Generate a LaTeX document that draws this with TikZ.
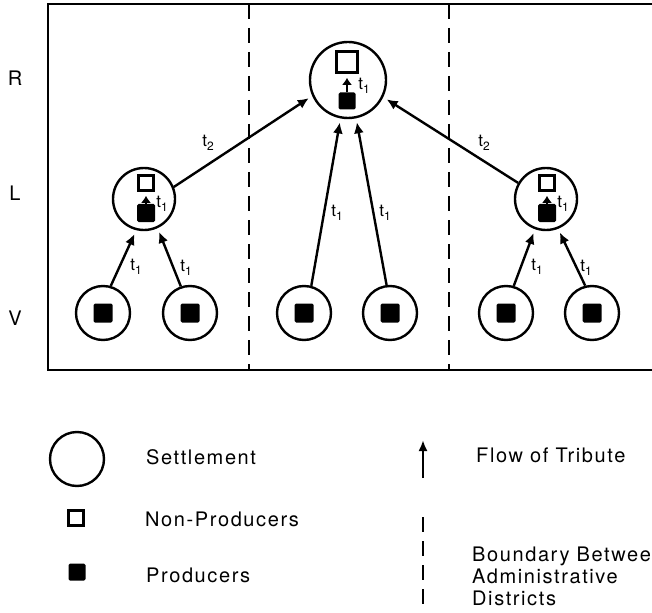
\documentclass[tikz,border=0pt]{standalone}
\usepackage{fontspec}
\setmainfont[LetterSpace=8]{TeX Gyre Heros}
\usetikzlibrary{arrows.meta,positioning}

\newcommand{\trib}[1]{t\raisebox{-4pt}{\fontsize{12}{14}\selectfont #1}}

\begin{document}
\begin{tikzpicture}[x=1pt, y=-1pt,
  every node/.style={font=\fontsize{20}{23}\selectfont},
  settle/.style={draw, circle, line width=2.4pt, minimum size=#1, inner sep=0pt},
  nonprod/.style={draw, line width=2.6pt, minimum width=#1, minimum height=#1,
                  inner sep=0pt, fill=white},
  prod/.style={fill=black, rounded corners=1.5pt, minimum width=#1,
               minimum height=#1, inner sep=0pt},
  arr/.style={-{Latex[length=11pt,width=10pt]}, line width=2.4pt, shorten >=4pt},
  tick/.style={-{Latex[length=7pt,width=10pt]}, line width=2.4pt, shorten >=4pt},
  lbl/.style={font=\fontsize{17}{20}\selectfont, inner sep=0pt},
  district/.style={dash pattern=on 15pt off 9pt, line width=2.6pt},
  legtxt/.style={anchor=west, align=left, inner sep=0pt},
]
\useasboundingbox[fill=white] (0,0) rectangle (652,612);

%% ── Frame and district boundaries ─────────────────────────────────────
\draw[line width=2.6pt] (652,4) -- (48,4) -- (48,370) -- (652,370);
\draw[district] (249,4) -- (249,370);
\draw[district] (449,4) -- (449,370);

%% ── Row labels ──────────────────────────────────────────────────────────
\node (rowR) at (15,78)  {R};
\node (rowL) at (15,193) {L};
\node (rowV) at (15,318) {V};

%% ── Regional centre ─────────────────────────────────────────────────────
\node[settle=76pt]  (R)   at (348,80)  {};
\node[nonprod=21pt] (Rnp) at (347,62)  {};
\node[prod=17pt]    (Rpr) at (347,101) {};
\draw[tick] (Rpr.north) -- (Rnp.south);
\node[lbl] (Rt) at (364,86) {\trib{1}};

%% ── Local centres ───────────────────────────────────────────────────────
\node[settle=62pt]  (L1)   at (144,199) {};
\node[nonprod=15pt] (L1np) at (146,183) {};
\node[prod=18pt]    (L1pr) at (146,213) {};
\draw[tick] (L1pr.north) -- (L1np.south);
\node[lbl] (L1t) at (162,204) {\trib{1}};

\node[settle=62pt]  (L2)   at (546,199) {};
\node[nonprod=15pt] (L2np) at (547,183) {};
\node[prod=18pt]    (L2pr) at (547,213) {};
\draw[tick] (L2pr.north) -- (L2np.south);
\node[lbl] (L2t) at (563,204) {\trib{1}};

%% ── Villages ────────────────────────────────────────────────────────────
\foreach \i/\x in {1/103, 2/190, 3/304, 4/390, 5/506, 6/592} {
  \node[settle=54pt] (V\i) at (\x,313) {};
  \node[prod=19pt] (V\i pr) at (\x,313) {};
}

%% ── Flow of tribute ─────────────────────────────────────────────────────
\draw[arr] (V1.74)  -- (L1.256);
\draw[arr] (V2.109) -- (L1.295);
\draw[arr] (V3.75)  -- (R.259);
\draw[arr] (V4.97)  -- (R.282);
\draw[arr] (V5.74)  -- (L2.250);
\draw[arr] (V6.104) -- (L2.292);
\draw[arr] (L1.22)  -- (R.204);
\draw[arr] (L2.150) -- (R.334);

\node[lbl] (t11) at (136,267) {\trib{1}};
\node[lbl] (t12) at (186,268) {\trib{1}};
\node[lbl] (t13) at (337,213) {\trib{1}};
\node[lbl] (t14) at (385,213) {\trib{1}};
\node[lbl] (t15) at (537,267) {\trib{1}};
\node[lbl] (t16) at (586,268) {\trib{1}};
\node[lbl] (t21) at (208,143) {\trib{2}};
\node[lbl] (t22) at (484,143) {\trib{2}};

%% ── Legend ──────────────────────────────────────────────────────────────
\node[settle=54pt]  (kS)  at (77,459) {};
\node[nonprod=15pt] (kNp) at (76,518) {};
\node[prod=17pt]    (kPr) at (77,572) {};
\node[legtxt] (kSt)  at (146,457) {Settlement};
\node[legtxt] (kNpt) at (145,519) {Non-Producers};
\node[legtxt] (kPrt) at (146,575) {Producers};

\coordinate (kA1) at (423,478);
\coordinate (kA2) at (423,440);
\draw[-{Latex[length=11pt,width=9pt]}, line width=2.4pt] (kA1) -- (kA2);
\node[legtxt] (kAt) at (476,455) {Flow of Tribute};

\coordinate (kD1) at (423,517);
\coordinate (kD2) at (423,612);
\draw[district] (kD1) -- (kD2);
\node[legtxt] (kDt) at (472,576) {Boundary Between\\[-1pt]Administrative\\[-1pt]Districts};
\end{tikzpicture}
\end{document}
